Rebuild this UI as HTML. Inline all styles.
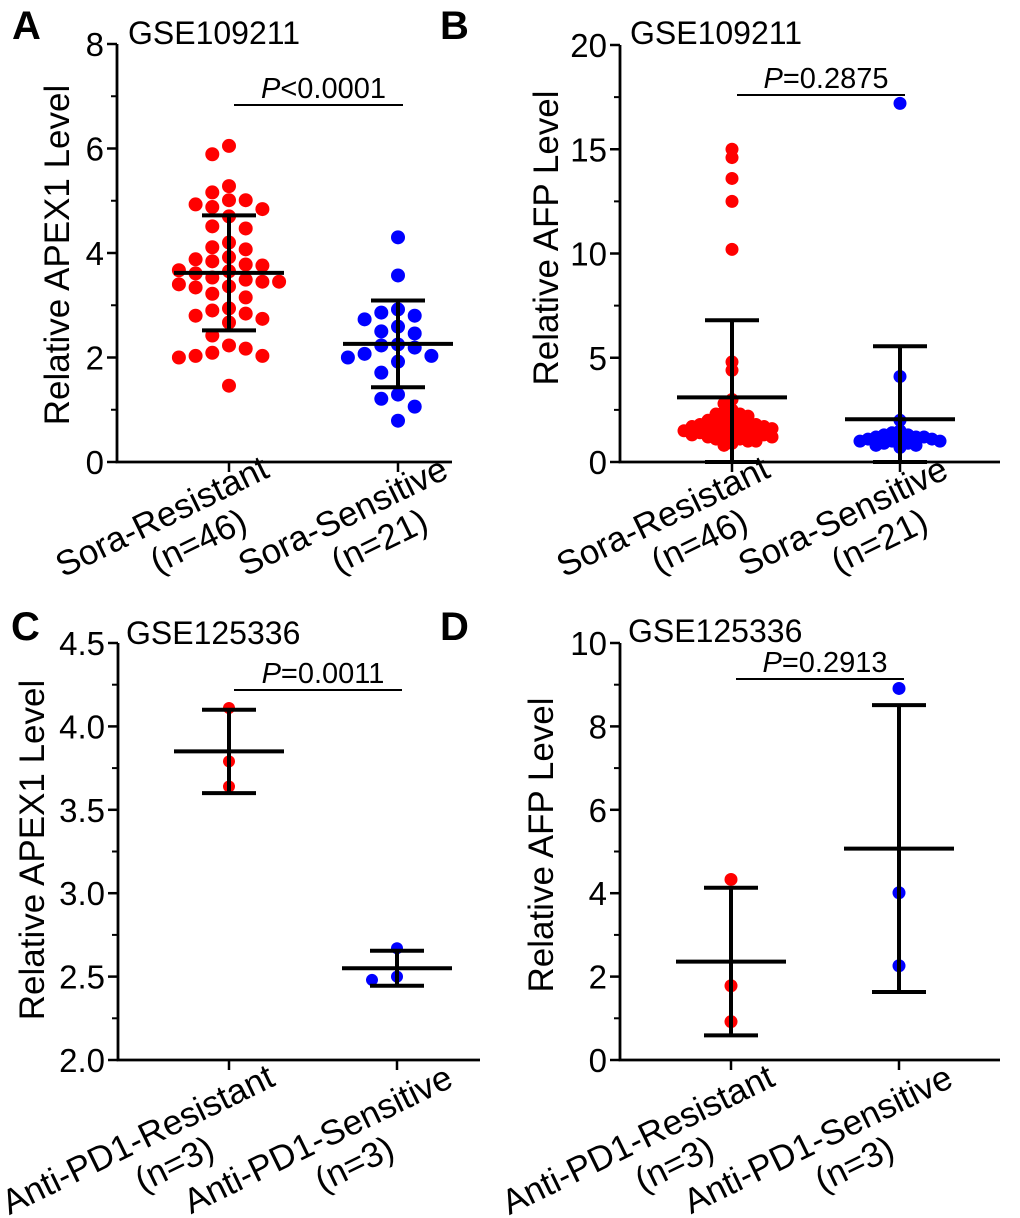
<!DOCTYPE html>
<html><head><meta charset="utf-8"><style>
html,body{margin:0;padding:0;background:#fff;}
svg{display:block;font-family:"Liberation Sans",Arial,sans-serif;}
</style></head><body>
<svg id="fig" width="1020" height="1218" viewBox="0 0 1020 1218" xmlns="http://www.w3.org/2000/svg">
<g font-weight="bold" font-size="40">
<text x="12" y="39">A</text>
<text x="440" y="39">B</text>
<text x="11" y="640">C</text>
<text x="440" y="640">D</text>
</g>
<g font-size="32">
<text x="128" y="44">GSE109211</text>
<text x="630" y="44">GSE109211</text>
<text x="126" y="644">GSE125336</text>
<text x="628" y="642">GSE125336</text>
</g>
</svg>
<script>
// Panel A data
const catsA = ["Sora-Resistant", "Sora-Sensitive"];
const nA = ["(n=46)", "(n=21)"];
const resA = [5.89,6.05,5.28,5.16,5.01,4.88,5.01,4.93,4.84,4.70,4.47,4.51,4.20,4.07,4.11,3.84,3.88,3.92,3.76,3.78,3.67,3.65,3.61,3.45,3.45,3.49,3.53,3.40,3.36,3.34,3.22,3.15,2.84,2.90,2.80,2.94,2.67,2.74,2.42,2.23,2.03,2.17,2.00,2.09,2.03,1.46];
const senA = [4.30,3.57,2.92,2.80,2.86,2.73,2.59,2.50,2.46,2.23,2.25,2.19,2.07,2.00,1.92,2.03,1.71,1.29,1.21,1.06,0.79];
const meanA = [3.62, 2.26];
const sdA = [1.10, 0.83];
const ticksA = [0, 2, 4, 6, 8];
const pA = "<0.0001";
// Panel B data
const resB = [15.0,14.6,13.6,12.5,10.2,4.8,4.4,3.0,2.8,2.5,2.4,2.3,2.3,2.2,2.1,2.0,2.0,1.9,1.9,1.8,1.8,1.8,1.7,1.7,1.7,1.6,1.6,1.6,1.5,1.5,1.5,1.4,1.4,1.4,1.3,1.3,1.3,1.2,1.2,1.2,1.1,1.1,1.0,1.0,0.9,0.8];
const senB = [17.2,4.1,2.0,1.5,1.4,1.3,1.3,1.2,1.2,1.2,1.1,1.1,1.1,1.0,1.0,1.0,0.9,0.9,0.8,0.8,0.7];
const meanB = [3.1, 2.05];
const sdB = [3.7, 3.5];
const ticksB = [0, 5, 10, 15, 20];
const pB = "=0.2875";
// Panel C data
const catsC = ["Anti-PD1-Resistant", "Anti-PD1-Sensitive"];
const nC = ["(n=3)", "(n=3)"];
const resC = [4.11, 3.79, 3.64];
const senC = [2.67, 2.48, 2.50];
const meanC = [3.85, 2.55];
const sdC = [0.25, 0.105];
const ticksC = ["2.0", "2.5", "3.0", "3.5", "4.0", "4.5"];
const pC = "=0.0011";
// Panel D data
const resD = [4.33, 1.78, 0.92];
const senD = [8.91, 4.01, 2.26];
const meanD = [2.36, 5.07];
const sdD = [1.77, 3.44];
const ticksD = [0, 2, 4, 6, 8, 10];
const pD = "=0.2913";

const NS = "http://www.w3.org/2000/svg";
const fig = document.getElementById("fig");
function mk(parent, tag, attrs) {
  const e = document.createElementNS(NS, tag);
  for (const k in attrs) e.setAttribute(k, attrs[k]);
  parent.appendChild(e);
  return e;
}

function swarm(vals, yf, step, minD, maxOff) {
  const order = vals.map((v, i) => i).sort((a, b) => vals[b] - vals[a]);
  const placed = [];
  const out = new Array(vals.length);
  order.forEach(i => {
    const y = yf(vals[i]);
    let off = 0;
    for (let t = 0; t < 40; t++) {
      off = (t === 0) ? 0 : (t % 2 ? -1 : 1) * Math.ceil(t / 2) * step;
      if (Math.abs(off) > maxOff) { off = 0; break; }
      const ok = placed.every(p => Math.hypot(p[0] - off, p[1] - y) >= minD);
      if (ok) break;
    }
    placed.push([off, y]);
    out[i] = [off, y];
  });
  return out;
}

function panel(cfg) {
  const g = mk(fig, "g", {});
  
  
  const y = v => cfg.y0 - (v - cfg.vmin) * (cfg.y0 - cfg.y1) / (cfg.vmax - cfg.vmin);
  const cx = [cfg.x0 + cfg.c1, cfg.x0 + cfg.c2];
  const ax = mk(g, "path", {d: `M${cfg.x0},${y(cfg.vmax)} V${cfg.y0} H${cfg.xEnd}`, stroke: "#000", "stroke-width": 2.8, fill: "none"});
  
  
  cfg.ticks.forEach(t => {
    const v = parseFloat(t);
    const tk = mk(g, "line", {x1: cfg.x0 - 10, x2: cfg.x0, y1: y(v), y2: y(v), stroke: "#000", "stroke-width": 2.5});
    
    
    const tl = mk(g, "text", {x: cfg.x0 - 13, y: y(v) + 12, "text-anchor": "end", "font-size": 33});
    tl.textContent = t;
    
    
  });
  for (let i = 0; i < cfg.ticks.length - 1; i++) {
    const v = (parseFloat(cfg.ticks[i]) + parseFloat(cfg.ticks[i + 1])) / 2;
    const mt = mk(g, "line", {x1: cfg.x0 - 6, x2: cfg.x0, y1: y(v), y2: y(v), stroke: "#000", "stroke-width": 2});
    
    
  }
  const yt = mk(g, "text", {transform: `translate(${cfg.ytx},${cfg.yty}) rotate(-90)`, "text-anchor": "middle", "font-size": 35});
  yt.textContent = cfg.ytitle;
  
  
  [0, 1].forEach(j => {
    const xt = mk(g, "line", {x1: cx[j], x2: cx[j], y1: cfg.y0, y2: cfg.y0 + 10, stroke: "#000", "stroke-width": 2.5});
    
    
    const lb = mk(g, "text", {transform: `translate(${cx[j] + cfg.lblOff[j]},${cfg.lblY}) rotate(-26)`, "text-anchor": "middle", "font-size": 35});
    
    
    const t1 = mk(lb, "tspan", {x: 0, y: 0});
    t1.textContent = cfg.cats[j];
    const t2 = mk(lb, "tspan", {x: 22, y: 38});
    t2.textContent = cfg.ns[j];
  });
  const series = [cfg.res, cfg.sen];
  const colors = ["#ff0000", "#0000ff"];
  [0, 1].forEach(j => {
    const pos = swarm(series[j], y, cfg.step, cfg.minD, cfg.maxOff);
    pos.forEach(p => {
      const c = mk(g, "circle", {cx: cx[j] + p[0], cy: p[1], r: cfg.r, fill: colors[j]});
      
      
    });
  });
  [0, 1].forEach(j => {
    const m = cfg.mean[j], s = cfg.sd[j];
    const lo = Math.max(cfg.vmin, m - s), hi = m + s;
    const eg = mk(g, "g", {stroke: "#000", "stroke-width": 4});
    
    
    mk(eg, "line", {x1: cx[j] - 55, x2: cx[j] + 55, y1: y(m), y2: y(m)});
    mk(eg, "line", {x1: cx[j], x2: cx[j], y1: y(hi), y2: y(lo)});
    mk(eg, "line", {x1: cx[j] - 27, x2: cx[j] + 27, y1: y(hi), y2: y(hi)});
    mk(eg, "line", {x1: cx[j] - 27, x2: cx[j] + 27, y1: y(lo), y2: y(lo)});
  });
  const pl = mk(g, "line", {x1: cx[0] + 5, x2: cx[1] + 5, y1: cfg.pY, y2: cfg.pY, stroke: "#000", "stroke-width": 2});
  
  
  const pt = mk(g, "text", {x: (cx[0] + cx[1]) / 2 + 10, y: cfg.pY - 7, "text-anchor": "middle", "font-size": 29});
  
  
  const pi = mk(pt, "tspan", {"font-style": "italic"});
  pi.textContent = "P";
  const pr = mk(pt, "tspan", {});
  pr.textContent = cfg.p;
}

panel({name: "panel-a", x0: 117, xEnd: 452, y0: 462, y1: 44, vmin: 0, vmax: 8, c1: 112, c2: 281,
  ticks: ticksA.map(String), ytitle: "Relative APEX1 Level", ytx: 69, yty: 255,
  cats: catsA, ns: nA, lblOff: [-62, -50], lblY: 527, res: resA, sen: senA, mean: meanA, sd: sdA,
  r: 7, step: 16.7, minD: 14, maxOff: 60, pY: 105, p: pA});
panel({name: "panel-b", x0: 620, xEnd: 1000, y0: 462, y1: 45, vmin: 0, vmax: 20, c1: 112, c2: 280,
  ticks: ticksB.map(String), ytitle: "Relative AFP Level", ytx: 558, yty: 238,
  cats: catsA, ns: nA, lblOff: [-64, -52], lblY: 527, res: resB, sen: senB, mean: meanB, sd: sdB,
  r: 6.5, step: 8, minD: 8, maxOff: 52, pY: 95, p: pB});
panel({name: "panel-c", x0: 118, xEnd: 480, y0: 1060, y1: 643, vmin: 2, vmax: 4.5, c1: 111, c2: 279,
  ticks: ticksC, ytitle: "Relative APEX1 Level", ytx: 44, yty: 850,
  cats: catsC, ns: nC, lblOff: [-86, -74], lblY: 1150, res: resC, sen: senC, mean: meanC, sd: sdC,
  r: 6, step: 25, minD: 13, maxOff: 60, pY: 690, p: pC});
panel({name: "panel-d", x0: 620, xEnd: 1000, y0: 1060, y1: 643, vmin: 0, vmax: 10, c1: 111, c2: 279,
  ticks: ticksD.map(String), ytitle: "Relative AFP Level", ytx: 553, yty: 845,
  cats: catsC, ns: nC, lblOff: [-88, -76], lblY: 1150, res: resD, sen: senD, mean: meanD, sd: sdD,
  r: 6.5, step: 25, minD: 13, maxOff: 60, pY: 679, p: pD});
</script>
</body></html>
